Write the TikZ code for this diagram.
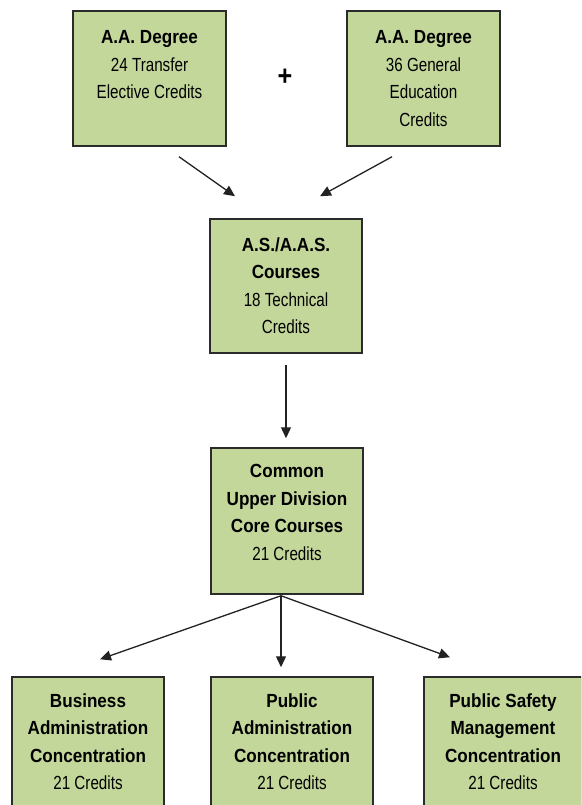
\documentclass[tikz,border=0pt]{standalone}
\usepackage{fontspec}
\setmainfont{Liberation Sans}[FakeStretch=0.8,BoldFeatures={FakeStretch=0.9}]
\usetikzlibrary{arrows.meta,calc}
\definecolor{boxgreen}{HTML}{C4D79B}
\definecolor{boxline}{HTML}{2B2B2B}
\definecolor{arrowline}{HTML}{222222}
\tikzset{
  card/.style={draw=boxline,line width=1.5pt,fill=boxgreen,rectangle,inner sep=0pt},
  cardtext/.style={anchor=north,inner sep=0pt,align=center,
    font=\fontsize{19}{27.5}\selectfont,text=black},
  arr/.style={draw=arrowline,line width=1.3pt,-{Triangle[length=11pt,width=10pt]}}
}
\begin{document}
\begin{tikzpicture}[x=1pt,y=-1pt]
\useasboundingbox (0,0) rectangle (581,805);
\clip (0,0) rectangle (581,805);
% boxes: centre, width, height (in px units)
\node[card,minimum width=153pt,minimum height=135pt] (b1) at (149.5,78.5) {};
\node[card,minimum width=153pt,minimum height=135pt] (b2) at (423.5,78.5) {};
\node[card,minimum width=152pt,minimum height=134pt] (b3) at (286,286) {};
\node[card,minimum width=152pt,minimum height=146pt] (b4) at (287,521) {};
\node[card,minimum width=152pt,minimum height=150pt] (c1) at (88,752) {};
\node[card,minimum width=162pt,minimum height=150pt] (c2) at (292,752) {};
\node[card,minimum width=158pt,minimum height=150pt] (c3) at (503,752) {};
% texts
\node[cardtext] (t1) at ($(b1.north)+(0,20)$) {\textbf{A.A. Degree}\\24 Transfer\\Elective Credits};
\node[cardtext] (t2) at ($(b2.north)+(0,20)$) {\textbf{A.A. Degree}\\36 General\\Education\\Credits};
\node[cardtext] (t3) at ($(b3.north)+(0,19)$) {\textbf{A.S./A.A.S.}\\\textbf{Courses}\\18 Technical\\Credits};
\node[cardtext] (t4) at ($(b4.north)+(0,17)$) {\textbf{Common}\\\textbf{Upper Division}\\\textbf{Core Courses}\\21 Credits};
\node[cardtext] (t5) at ($(c1.north)+(0,17)$) {\textbf{Business}\\\textbf{Administration}\\\textbf{Concentration}\\21 Credits};
\node[cardtext] (t6) at ($(c2.north)+(0,17)$) {\textbf{Public}\\\textbf{Administration}\\\textbf{Concentration}\\21 Credits};
\node[cardtext] (t7) at ($(c3.north)+(0,17)$) {\textbf{Public Safety}\\\textbf{Management}\\\textbf{Concentration}\\21 Credits};
% plus sign between the two degree boxes
\node[inner sep=0pt,font=\fontsize{28}{28}\selectfont\bfseries] (plus) at (285,77) {+};
% connectors
\draw[arr] ([xshift=29.5pt,yshift=-10pt]b1.south) -- ([xshift=-51pt,yshift=22pt]b3.north);
\draw[arr] ([xshift=-31.5pt,yshift=-10pt]b2.south) -- ([xshift=34pt,yshift=22pt]b3.north);
\draw[arr] ([yshift=-11pt]b3.south) -- ([yshift=9pt]b3.south |- b4.north);
\draw[arr] ([xshift=-6pt,yshift=-1pt]b4.south) -- ([xshift=12pt,yshift=17pt]c1.north);
\draw[arr] ([xshift=-6pt,yshift=-1pt]b4.south) -- ([xshift=-11pt,yshift=9pt]c2.north);
\draw[arr] ([xshift=-6pt,yshift=-1pt]b4.south) -- ([xshift=-53pt,yshift=19pt]c3.north);
\end{tikzpicture}
\end{document}
